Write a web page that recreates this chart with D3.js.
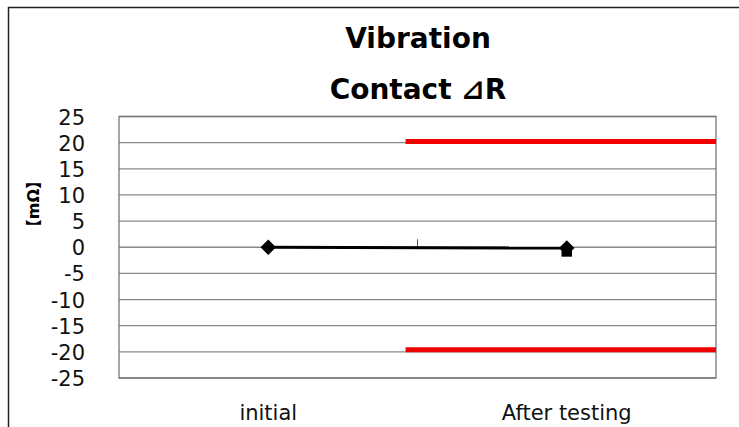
<!DOCTYPE html>
<html>
<head>
<meta charset="utf-8">
<script src="https://cdn.jsdelivr.net/npm/d3@7"></script>
<style>
  body { margin: 0; background: #fff; }
  text { font-family: "DejaVu Sans", "Noto Sans CJK JP", sans-serif; }
</style>
</head>
<body>
<script>
// chart data
var categories = ["initial", "After testing"]
var series_diamond = [0, -0.15]
var series_square = [null, -0.8]
var limit_upper = [20.2, 20.2]
var limit_lower = [-19.6, -19.6]
var limit_x = [1.46, 2.5]
var y_ticks = [25, 20, 15, 10, 5, 0, -5, -10, -15, -20, -25]
var title_lines = ["Vibration", "Contact ⊿R"]
var unit_label = "【mΩ】"

var svg_width = 739
var svg_height = 427
var margin = {left: 119, right: 23, top: 116.5, bottom: 49}

var svg = d3.select("body")
    .append("svg")
    .attr("width", svg_width)
    .attr("height", svg_height)

// outer frame (runs off the right/bottom of the picture)
svg.append("rect")
    .attr("x", 8.5).attr("y", 7.5)
    .attr("width", 760).attr("height", 460)
    .attr("fill", "none")
    .attr("stroke", "#222")
    .attr("stroke-width", 1.5)

var x_scale = d3.scaleLinear()
    .domain([0.5, 2.5])
    .range([margin.left, svg_width - margin.right])

var y_scale = d3.scaleLinear()
    .domain([-25, 25])
    .range([svg_height - margin.bottom, margin.top])

// title
svg.selectAll(".title")
    .data(title_lines)
    .enter()
    .append("text")
    .attr("x", 418)
    .attr("y", function(d, i) { return 48 + i * 51 })
    .attr("text-anchor", "middle")
    .attr("font-size", "28px")
    .attr("font-weight", "bold")
    .text(function(d) { return d })

// horizontal gridlines
svg.append("g")
    .selectAll("line")
    .data(y_ticks)
    .enter()
    .append("line")
    .attr("x1", x_scale(0.5))
    .attr("x2", x_scale(2.5))
    .attr("y1", function(d) { return y_scale(d) })
    .attr("y2", function(d) { return y_scale(d) })
    .attr("stroke", "#888")
    .attr("stroke-width", 1.3)

// plot border
svg.append("rect")
    .attr("x", x_scale(0.5)).attr("y", y_scale(25))
    .attr("width", x_scale(2.5) - x_scale(0.5))
    .attr("height", y_scale(-25) - y_scale(25))
    .attr("fill", "none")
    .attr("stroke", "#777")
    .attr("stroke-width", 1.3)

// y axis labels, plain hyphen for minus like the original
var y_axis = d3.axisLeft(y_scale)
    .tickValues(y_ticks)
    .tickSize(0)
    .tickPadding(34)
    .tickFormat(function(d) { return String(d) })

svg.append("g")
    .attr("transform", "translate(" + margin.left + ",0)")
    .call(y_axis)
    .call(function(g) { g.select(".domain").remove() })
    .selectAll("text")
    .attr("font-size", "21px")
    .attr("font-family", "DejaVu Sans, sans-serif")
    .attr("fill", "#111")
    .attr("dy", "0.36em")

// unit label
svg.append("text")
    .attr("transform", "translate(39,204) rotate(-90)")
    .attr("text-anchor", "middle")
    .attr("font-size", "16px")
    .attr("font-weight", "bold")
    .text(unit_label)

// category tick at zero line
svg.append("line")
    .attr("x1", x_scale(1.5)).attr("x2", x_scale(1.5))
    .attr("y1", y_scale(0)).attr("y2", y_scale(0) - 8)
    .attr("stroke", "#555")
    .attr("stroke-width", 1)

// category labels
svg.selectAll(".cat")
    .data(categories)
    .enter()
    .append("text")
    .attr("x", function(d, i) { return x_scale(i + 1) })
    .attr("y", 420)
    .attr("text-anchor", "middle")
    .attr("font-size", "21px")
    .attr("fill", "#111")
    .text(function(d) { return d })

// limit lines
var limit_line = d3.line()
    .x(function(d, i) { return x_scale(limit_x[i]) })
    .y(function(d) { return y_scale(d) })

svg.selectAll(".limit")
    .data([limit_upper, limit_lower])
    .enter()
    .append("path")
    .attr("d", limit_line)
    .attr("fill", "none")
    .attr("stroke", "#f00000")
    .attr("stroke-width", 5)

// measurement line
var value_line = d3.line()
    .defined(function(d) { return d != null })
    .x(function(d, i) { return x_scale(i + 1) })
    .y(function(d) { return y_scale(d) })

svg.append("path")
    .datum(series_diamond)
    .attr("d", value_line)
    .attr("fill", "none")
    .attr("stroke", "#000")
    .attr("stroke-width", 3)

// markers: square, and square turned 45 degrees for the diamond
var square = d3.symbol().type(d3.symbolSquare).size(110)
var diamond = d3.symbol().type(d3.symbolSquare).size(120)

svg.selectAll(".sq")
    .data(series_square)
    .enter()
    .filter(function(d) { return d != null })
    .append("path")
    .attr("d", square)
    .attr("transform", function(d) { return "translate(" + x_scale(2) + "," + y_scale(d) + ")" })
    .attr("fill", "#000")

svg.selectAll(".dm")
    .data(series_diamond)
    .enter()
    .append("path")
    .attr("d", diamond)
    .attr("transform", function(d, i) { return "translate(" + x_scale(i + 1) + "," + y_scale(d) + ") rotate(45)" })
    .attr("fill", "#000")
</script>
</body>
</html>
